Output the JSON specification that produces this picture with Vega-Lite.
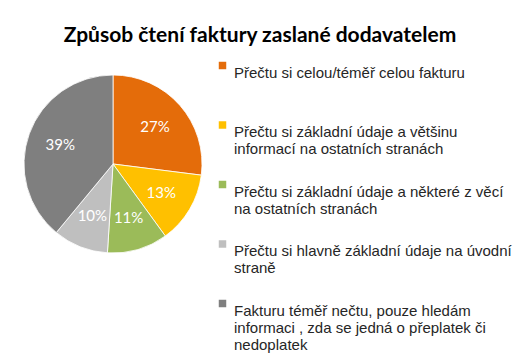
{
  "$schema": "https://vega.github.io/schema/vega-lite/v6.json",
  "width": 226,
  "height": 208,
  "autosize": {"type": "none"},
  "padding": {"top": 60, "left": 0, "right": 300, "bottom": 91},
  "background": "white",
  "title": {
    "text": "Způsob čtení faktury zaslané dodavatelem",
    "font": "Lato",
    "fontSize": 21,
    "fontWeight": "bold",
    "color": "#000000",
    "anchor": "middle",
    "frame": "group",
    "dx": 147,
    "offset": 12
  },
  "data": {
    "values": [
      {"i": 1, "kat": "Přečtu si celou/téměř celou fakturu", "podil": 0.27},
      {"i": 2, "kat": "Přečtu si základní údaje a většinu\ninformací na ostatních stranách", "podil": 0.13},
      {"i": 3, "kat": "Přečtu si základní údaje a některé z věcí\nna ostatních stranách", "podil": 0.11},
      {"i": 4, "kat": "Přečtu si hlavně základní údaje na úvodní\nstraně", "podil": 0.10},
      {"i": 5, "kat": "Fakturu téměř nečtu, pouze hledám\ninformaci , zda se jedná o přeplatek či\nnedoplatek", "podil": 0.39}
    ]
  },
  "encoding": {
    "theta": {"field": "podil", "type": "quantitative", "stack": true},
    "order": {"field": "i", "type": "quantitative"}
  },
  "layer": [
    {
      "mark": {"type": "arc", "outerRadius": 89, "stroke": "white", "strokeWidth": 0.8},
      "encoding": {
        "color": {
          "field": "kat",
          "type": "nominal",
          "scale": {
            "domain": [
              "Přečtu si celou/téměř celou fakturu",
              "Přečtu si základní údaje a většinu\ninformací na ostatních stranách",
              "Přečtu si základní údaje a některé z věcí\nna ostatních stranách",
              "Přečtu si hlavně základní údaje na úvodní\nstraně",
              "Fakturu téměř nečtu, pouze hledám\ninformaci , zda se jedná o přeplatek či\nnedoplatek"
            ],
            "range": ["#E46C0A", "#FFC000", "#9BBB59", "#BFBFBF", "#7F7F7F"]
          },
          "legend": {
            "orient": "none",
            "legendX": 215,
            "legendY": -2,
            "title": null,
            "symbolType": "square",
            "symbolSize": 56,
            "symbolStrokeWidth": 0,
            "labelFont": "Liberation Sans",
            "labelFontSize": 15,
            "labelColor": "#262626",
            "labelLimit": 400,
            "labelOffset": 4,
            "labelBaseline": "top",
            "gridAlign": "all",
            "rowPadding": 2.5,
            "labelExpr": "split(datum.label, '\\n')",
            "encode": {
              "labels": {"update": {"lineHeight": {"value": 18}, "dy": {"value": -8}}}
            }
          }
        }
      }
    },
    {
      "mark": {"type": "text", "radius": 56, "font": "Lato", "fontSize": 15, "fill": "white"},
      "encoding": {
        "text": {"field": "podil", "type": "quantitative", "format": ".0%"}
      }
    }
  ]
}
